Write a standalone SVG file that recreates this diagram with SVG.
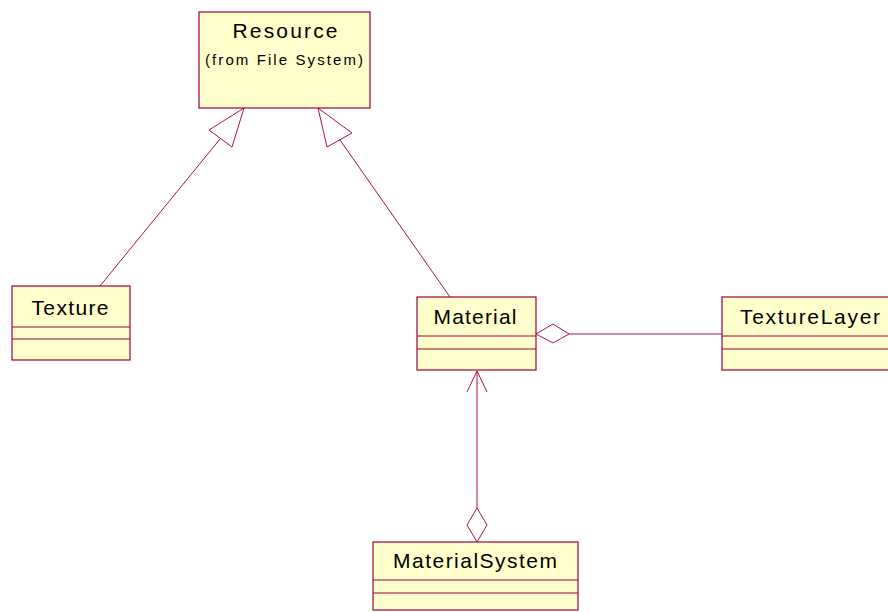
<svg xmlns="http://www.w3.org/2000/svg" width="888" height="612" viewBox="0 0 888 612">
<style>
.box{fill:#ffffcc;stroke:#a0003a;stroke-width:1.2}
.sep{stroke:#a0003a;stroke-width:1}
.name{font-family:"Liberation Sans",Arial,sans-serif;font-size:21px;fill:#000;text-anchor:middle}
.sub{font-family:"Liberation Sans",Arial,sans-serif;font-size:15px;fill:#000;text-anchor:middle}
.ln{stroke:#b0104a;stroke-width:1;fill:none}
.head{stroke:#b0104a;stroke-width:1;fill:#fff}
</style>
<rect width="888" height="612" fill="#fff"/>
<g id="connectors">
<line class="ln" x1="220" y1="139" x2="100" y2="286"/>
<polygon class="head" points="244,108 209,130 232,147"/>
<line class="ln" x1="340" y1="140" x2="450" y2="297"/>
<polygon class="head" points="318,108 352,133 327,147"/>
<line class="ln" x1="569" y1="334" x2="722" y2="334"/>
<polygon class="head" points="536,334 553,324 569,334 553,343"/>
<line class="ln" x1="477" y1="371" x2="477" y2="508"/>
<polyline class="ln" points="467,392 477,371 487,392"/>
<polygon class="head" points="477,508 487,525 477,542 467,525"/>
</g>
<g id="Resource">
<rect class="box" x="199" y="12" width="171" height="96"/>
<text class="name" x="285" y="38" textLength="105" lengthAdjust="spacing">Resource</text>
<text class="sub" x="284" y="65" textLength="158" lengthAdjust="spacing">(from File System)</text>
</g>
<g id="Texture">
<rect class="box" x="12" y="286" width="118" height="74"/>
<line class="sep" x1="12" y1="327" x2="130" y2="327"/>
<line class="sep" x1="12" y1="339" x2="130" y2="339"/>
<text class="name" x="70" y="315" textLength="77" lengthAdjust="spacing">Texture</text>
</g>
<g id="Material">
<rect class="box" x="417" y="297" width="119" height="73"/>
<line class="sep" x1="417" y1="336" x2="536" y2="336"/>
<line class="sep" x1="417" y1="349" x2="536" y2="349"/>
<text class="name" x="475" y="324" textLength="83" lengthAdjust="spacing">Material</text>
</g>
<g id="TextureLayer">
<rect class="box" x="722" y="297" width="170" height="73"/>
<line class="sep" x1="722" y1="336" x2="888" y2="336"/>
<line class="sep" x1="722" y1="349" x2="888" y2="349"/>
<text class="name" x="810" y="324" textLength="140" lengthAdjust="spacing">TextureLayer</text>
</g>
<g id="MaterialSystem">
<rect class="box" x="373" y="542" width="205" height="68"/>
<line class="sep" x1="373" y1="580" x2="578" y2="580"/>
<line class="sep" x1="373" y1="593" x2="578" y2="593"/>
<text class="name" x="475" y="568" textLength="164" lengthAdjust="spacing">MaterialSystem</text>
</g>
</svg>
